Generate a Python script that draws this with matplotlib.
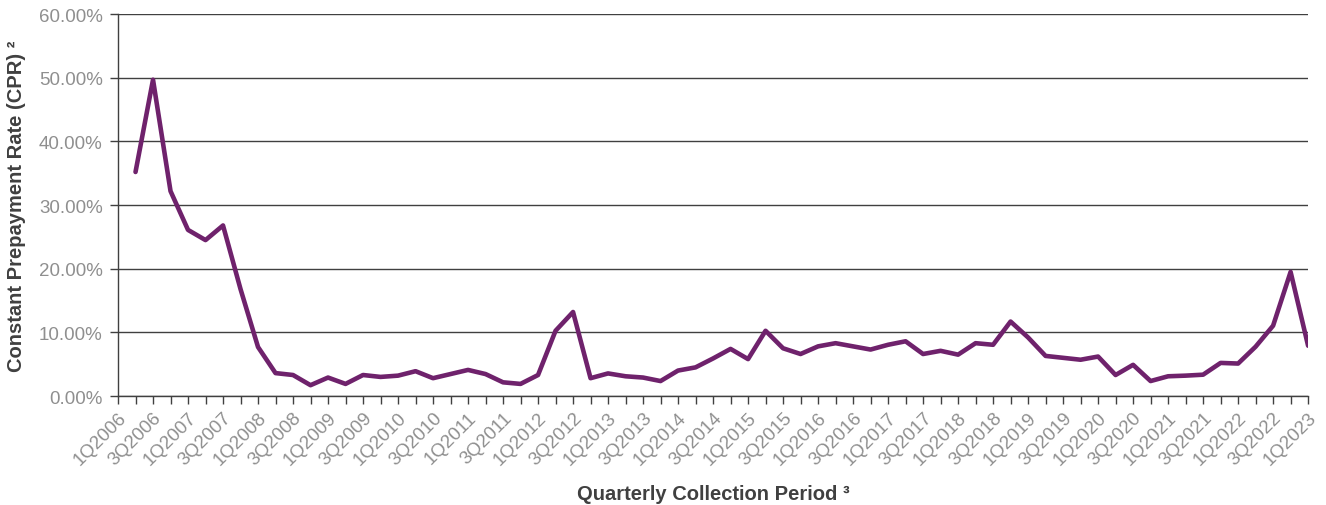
import numpy as np
import matplotlib
matplotlib.use('Agg')
from matplotlib import pyplot as plt
from matplotlib.ticker import FuncFormatter

plt.rcParams['font.family'] = ['Liberation Sans', 'DejaVu Sans']

# quarters 1Q2006 .. 1Q2023
quarters = ['%dQ%d' % (q, y) for y in range(2006, 2024) for q in range(1, 5)][:69]

# CPR (%) from 2Q2006 onward (1Q2006 has no value)
cpr = [35.2, 49.7, 32.2, 26.1, 24.5, 26.8, 16.8, 7.7, 3.6, 3.3,
       1.7, 2.9, 1.9, 3.3, 3.0, 3.2, 3.9, 2.8, 3.45, 4.1,
       3.45, 2.15, 1.9, 3.3, 10.25, 13.2, 2.8, 3.55, 3.1, 2.9,
       2.35, 4.0, 4.5, 5.9, 7.4, 5.8, 10.25, 7.5, 6.6, 7.8,
       8.3, 7.8, 7.3, 8.05, 8.6, 6.6, 7.1, 6.5, 8.3, 8.05,
       11.7, 9.2, 6.3, 6.0, 5.7, 6.2, 3.3, 4.9, 2.35, 3.1,
       3.2, 3.35, 5.2, 5.1, 7.75, 11.05, 19.5, 7.9]

x = np.arange(1, len(cpr) + 1)

fig = plt.figure(figsize=(13.26, 5.06), dpi=100)
ax = fig.add_axes([0.089, 0.2154, 0.8975, 0.7546])

ax.plot(x, cpr, color='#6f226c', lw=3.3, solid_joinstyle='round',
        solid_capstyle='round', zorder=3)

ax.set_xlim(0, len(quarters) - 1)
ax.set_ylim(0, 60)
ax.set_yticks(np.arange(0, 61, 10))
ax.yaxis.set_major_formatter(FuncFormatter(lambda v, p: '%.2f%%' % v))
ax.grid(axis='y', color='#404040', lw=1.0)
ax.set_axisbelow(True)

ax.set_xticks(np.arange(len(quarters)))
ax.set_xticklabels([q if i % 2 == 0 else '' for i, q in enumerate(quarters)],
                   rotation=45, ha='right', rotation_mode='anchor')

for s in ['top', 'right']:
    ax.spines[s].set_visible(False)
for s in ['left', 'bottom']:
    ax.spines[s].set_color('#404040')
    ax.spines[s].set_linewidth(1.0)

ax.tick_params(axis='both', colors='#404040', length=6, width=1.0,
               labelcolor='#8f8f8f', labelsize=13.5)
ax.tick_params(axis='x', pad=3)
ax.tick_params(axis='y', pad=5)

ax.set_ylabel('Constant Prepayment Rate (CPR) ²', fontsize=14.5, fontweight='bold',
              color='#404040', labelpad=9)
ax.set_xlabel('Quarterly Collection Period ³', fontsize=14.5, fontweight='bold',
              color='#404040', labelpad=12)

fig.savefig('out.png', dpi=100)
